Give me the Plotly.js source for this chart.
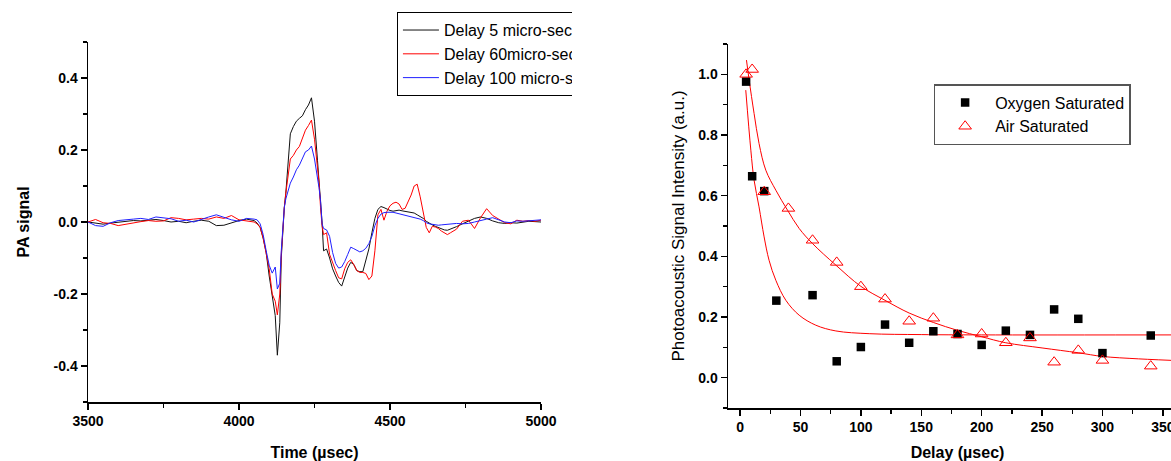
<!DOCTYPE html>
<html><head><meta charset="utf-8">
<script src="https://cdn.plot.ly/plotly-3.0.1.min.js"></script>
<style>
html,body{margin:0;padding:0;background:#fff;overflow:hidden;width:1171px;height:461px;}
#left{position:absolute;left:0;top:0;width:572px;height:461px;overflow:hidden;}
#right{position:absolute;left:572px;top:0;width:700px;height:461px;}
</style></head><body>
<div id="left"><div id="pa" style="width:700px;height:461px"></div></div>
<div id="right"><div id="decay" style="width:700px;height:461px"></div></div>
<script>
// ---------- Left panel: PA signal waveforms ----------
const timeUs = [3500,3525,3550,3575,3600,3625,3650,3675,3700,3725,3750,3775,3800,3825,3850,3875,3900,3925,3950,3975,4000,4025,4050,
 4060,4070,4080,4090,4100,4110,4120,4127,4135,4140,4145,4150,4155,4160,4165,4170,4180,4190,4200,4210,4220,4230,4240,4250,4260,4265,4270,4275,4280,4290,4300,4310,4320,4330,4340,4350,4360,4370,4380,4390,4400,4410,4420,4430,4440,4450,4460,4470,4480,4490,4500,
 4510,4520,4530,4540,4550,4560,4570,4580,4590,4600,4610,4620,4630,4640,4650,4660,4670,4680,4690,4700,
 4720,4740,4760,4780,4800,4820,4840,4860,4880,4900,4920,4940,4960,4980,5000];

const delay5 = [0.000,-0.004,-0.006,-0.003,0.000,0.002,0.004,0.003,0.006,0.007,0.004,0.000,0.002,-0.002,0.002,0.005,0.002,-0.010,-0.009,-0.002,0.004,0.008,0.004,
 -0.003,-0.015,-0.045,-0.085,-0.150,-0.210,-0.260,-0.370,-0.280,-0.100,-0.020,0.040,0.080,0.130,0.190,0.245,0.265,0.280,0.288,0.295,0.312,0.325,0.345,0.280,0.170,0.120,0.070,0.000,-0.080,-0.075,-0.100,-0.130,-0.150,-0.168,-0.178,-0.150,-0.128,-0.112,-0.118,-0.135,-0.138,-0.138,-0.110,-0.075,-0.030,0.010,0.035,0.043,0.040,0.035,0.032,
 0.030,0.032,0.033,0.031,0.030,0.028,0.027,0.025,0.020,0.016,0.010,0.002,-0.004,-0.008,-0.012,-0.016,-0.019,-0.022,-0.023,-0.020,
 -0.013,-0.005,0.003,0.010,0.014,0.010,0.003,-0.002,-0.004,-0.002,-0.003,0.000,0.002,0.001,0.000];

const delay60 = [0.000,0.007,-0.002,-0.004,-0.010,-0.006,-0.001,0.001,0.004,0.002,0.003,0.012,0.010,0.006,0.008,0.010,0.008,0.014,0.010,0.018,0.006,0.002,0.000,
 -0.005,-0.015,-0.045,-0.085,-0.130,-0.200,-0.220,-0.258,-0.200,-0.090,-0.020,0.040,0.080,0.110,0.150,0.175,0.185,0.200,0.210,0.235,0.255,0.268,0.283,0.230,0.150,0.110,0.040,-0.010,-0.035,-0.030,-0.090,-0.115,-0.135,-0.155,-0.158,-0.130,-0.112,-0.105,-0.118,-0.135,-0.140,-0.140,-0.143,-0.160,-0.150,-0.080,0.020,0.035,0.005,0.030,0.045,
 0.052,0.055,0.050,0.035,0.038,0.055,0.075,0.100,0.105,0.070,0.030,-0.015,-0.030,-0.012,-0.014,-0.018,-0.025,-0.030,-0.035,-0.030,
 -0.020,0.002,0.005,-0.018,0.012,0.037,0.018,0.008,-0.002,-0.005,0.005,0.002,0.004,0.002,0.005];

const delay100 = [0.000,-0.010,-0.012,-0.002,0.004,0.005,0.008,0.010,0.007,0.014,0.012,0.009,0.002,0.005,0.000,0.008,0.014,0.020,0.012,0.006,0.002,0.010,0.008,
 0.006,-0.005,-0.035,-0.080,-0.120,-0.142,-0.125,-0.186,-0.170,-0.080,-0.010,0.040,0.064,0.080,0.095,0.108,0.125,0.145,0.158,0.175,0.195,0.200,0.211,0.175,0.125,0.095,0.060,-0.005,-0.018,-0.022,-0.040,-0.085,-0.115,-0.128,-0.125,-0.110,-0.090,-0.070,-0.074,-0.078,-0.083,-0.080,-0.073,-0.060,-0.040,-0.010,0.010,0.022,0.026,0.027,0.028,
 0.027,0.025,0.023,0.022,0.020,0.018,0.016,0.012,0.010,0.008,0.004,-0.002,-0.005,-0.007,-0.008,-0.009,-0.008,-0.007,-0.006,-0.005,
 -0.004,-0.005,-0.004,0.000,0.005,0.008,0.012,0.005,0.000,-0.002,0.003,0.002,0.004,0.005,0.006];

const waveNames = ['Delay 5 micro-sec','Delay 60micro-sec','Delay 100 micro-sec'];
const paTickVals = [-0.4,-0.2,0,0.2,0.4];
const paTickText = ['-0.4','-0.2','0.0','0.2','0.4'];

// ---------- Right panel: decay of PA signal ----------
const delayUs = [5,10,20,30,60,80,100,120,140,160,180,200,220,240,260,280,300,340];
const oxygenSat = [0.976,0.664,0.615,0.254,0.272,0.054,0.101,0.175,0.115,0.153,0.144,0.108,0.155,0.141,0.225,0.194,0.081,0.139];
const airDelay = [5,10,20,40,60,80,100,120,140,160,180,200,220,240,260,280,300,340];
const airSat = [1.000,1.016,0.613,0.558,0.453,0.380,0.300,0.259,0.186,0.196,0.141,0.144,0.115,0.131,0.051,0.090,0.057,0.038];

const oxyFitX = [4.7,8.9,11.6,15.7,19.9,24,29.6,37.9,48.9,62.7,79.3,106.9,150,200,370];
const oxyFitY = [0.948,0.750,0.651,0.563,0.464,0.387,0.321,0.255,0.206,0.173,0.154,0.145,0.142,0.141,0.141];
const airFitX = [5.3,7.5,11.6,15.7,21.3,29.6,39.3,48.9,60,79.3,100,120,140,160,180,200,220,250,280,300,330,370];
const airFitY = [1.047,0.981,0.871,0.772,0.684,0.618,0.552,0.492,0.442,0.371,0.301,0.255,0.213,0.182,0.156,0.135,0.115,0.098,0.082,0.070,0.062,0.055];
const legendNames = ['Oxygen Saturated','Air Saturated'];

const FONT = 'Arial, "Liberation Sans", sans-serif';

function axisBase(){
  return {showline:true, linecolor:'#000', linewidth:1.5, ticks:'outside', ticklen:6, tickwidth:1.5,
    tickcolor:'#000', showgrid:false, zeroline:false, fixedrange:true,
    tickfont:{family:FONT, size:14, weight:'bold', color:'#000'}};
}

const leftTraces = [
  {x:timeUs, y:delay5, name:waveNames[0], mode:'lines', line:{color:'#111', width:1}},
  {x:timeUs, y:delay60, name:waveNames[1], mode:'lines', line:{color:'#ff0000', width:1}},
  {x:timeUs, y:delay100, name:waveNames[2], mode:'lines', line:{color:'#2020ff', width:1}}
];
const leftLayout = {
  width:700, height:461, margin:{l:88, r:159, t:39, b:59},
  paper_bgcolor:'#fff', plot_bgcolor:'#fff', font:{family:FONT, color:'#000'},
  showlegend:true,
  legend:{x:0.682, y:1.083, xanchor:'left', yanchor:'top', bgcolor:'#fff', bordercolor:'#000', borderwidth:1,
    font:{family:FONT, size:16, color:'#000'}, itemwidth:36, tracegroupgap:0},
  xaxis:Object.assign(axisBase(), {range:[3500,5000], tick0:3500, dtick:500,
    minor:{dtick:250, tick0:3500, ticks:'outside', ticklen:4, tickwidth:1.5, tickcolor:'#000', showgrid:false},
    title:{text:'Time (µsec)', font:{family:FONT, size:16, weight:'bold', color:'#000'}}}),
  yaxis:Object.assign(axisBase(), {range:[-0.5,0.5], tickmode:'array', tickvals:paTickVals, ticktext:paTickText,
    automargin:true,
    minor:{tickmode:'linear', tick0:0, dtick:0.1, ticks:'outside', ticklen:4, tickwidth:1.5, tickcolor:'#000', showgrid:false},
    title:{text:'PA signal', standoff:20, font:{family:FONT, size:16, weight:'bold', color:'#000'}}})
};

const rightTraces = [
  {x:oxyFitX, y:oxyFitY, mode:'lines', line:{color:'#ff0000', width:1, shape:'spline'}, showlegend:false, hoverinfo:'skip'},
  {x:airFitX, y:airFitY, mode:'lines', line:{color:'#ff0000', width:1, shape:'spline'}, showlegend:false, hoverinfo:'skip'},
  {x:delayUs, y:oxygenSat, name:legendNames[0], mode:'markers', marker:{symbol:'square', size:8.5, color:'#000'}},
  {x:airDelay, y:airSat, name:legendNames[1], mode:'markers', marker:{symbol:'triangle-up-open', size:11, color:'#ff0000', line:{width:1, color:'#ff0000'}}}
];
const rightLayout = {
  width:700, height:461, margin:{l:156, r:85, t:44, b:53},
  paper_bgcolor:'#fff', plot_bgcolor:'#fff', font:{family:FONT, color:'#000'},
  showlegend:true,
  legend:{x:0.448, y:0.89, xanchor:'left', yanchor:'top', bgcolor:'#fff', bordercolor:'#555', borderwidth:1.5,
    font:{family:FONT, size:16, color:'#000'}, itemwidth:50, tracegroupgap:0},
  xaxis:Object.assign(axisBase(), {range:[-10,370], tick0:0, dtick:50,
    minor:{dtick:25, tick0:0, ticks:'outside', ticklen:4, tickwidth:1.5, tickcolor:'#000', showgrid:false},
    title:{text:'Delay (µsec)', font:{family:FONT, size:16, weight:'bold', color:'#000'}}}),
  yaxis:Object.assign(axisBase(), {range:[-0.1,1.1], tick0:0, dtick:0.2, tickformat:'.1f',
    minor:{dtick:0.1, tick0:0, ticks:'outside', ticklen:4, tickwidth:1.5, tickcolor:'#000', showgrid:false},
    title:{text:'Photoacoustic Signal Intensity (a.u.)', font:{family:FONT, size:17, color:'#000'}}})
};

const cfg = {displayModeBar:false, staticPlot:true};
Plotly.newPlot('pa', leftTraces, leftLayout, cfg);
Plotly.newPlot('decay', rightTraces, rightLayout, cfg);
</script>
</body></html>
